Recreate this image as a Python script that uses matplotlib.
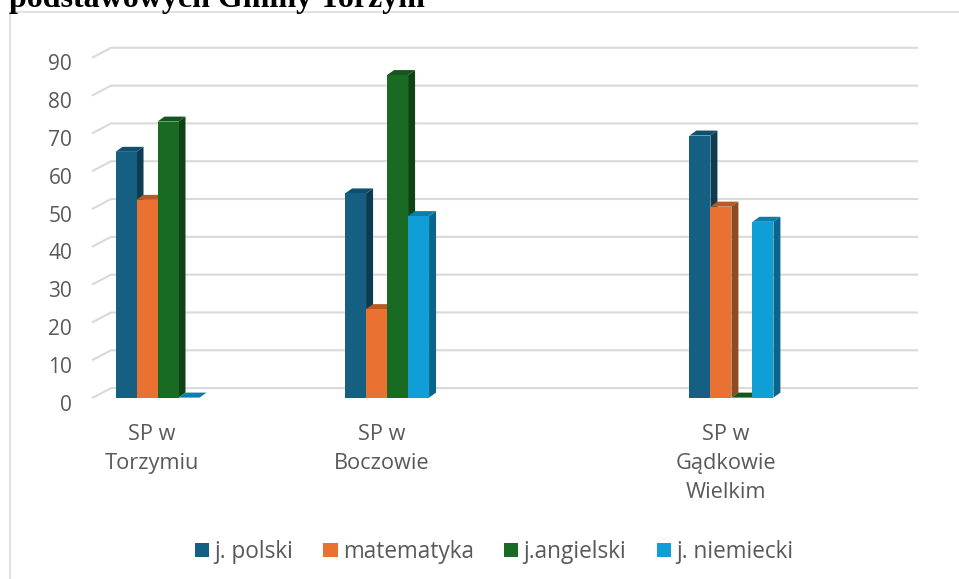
import numpy as np
import matplotlib.pyplot as plt
from matplotlib.patches import Polygon
from matplotlib.transforms import ScaledTranslation

plt.rcParams['font.family'] = ['Open Sans', 'DejaVu Sans']

# Data
schools = ['SP w\nTorzymiu', 'SP w\nBoczowie', 'SP w\nGądkowie\nWielkim']
school_pos = [0, 2, 5]
subjects = ['j. polski', 'matematyka', 'j.angielski', 'j. niemiecki']
polski = [65, 54, 69.3]
matematyka = [52.3, 23.4, 50.5]
angielski = [73, 85.3, 0]
niemiecki = [0, 48, 46.5]
series = [polski, matematyka, angielski, niemiecki]
y_ticks = [0, 10, 20, 30, 40, 50, 60, 70, 80, 90]

colors = ['#156082', '#E97132', '#196B24', '#0F9ED5']
sides = ['#0D3B50', '#8F4A20', '#0F4316', '#09658A']
tops = ['#11506D', '#B85A27', '#14561D', '#0B7FAC']
grid_color = '#D9D9D9'
text_color = '#595959'

W, H = 959, 579
fig = plt.figure(figsize=(W / 100, H / 100), dpi=100)
ax = fig.add_axes([93 / W, 1 - 397.6 / H, 806 / W, 340.3 / H])
ax.set_xlim(-0.562, 6.46)
ax.set_ylim(0, 90)
for s in ax.spines.values():
    s.set_visible(False)

# pixels to data units
px_x = 7.022 / 806
px_y = 90 / 340.3
bar_w = 21 * px_x
depth_x, depth_y = 7 * px_x, 5 * px_y
floor_x, floor_y = 18 * px_x, 9.5 * px_y

# back wall and side gridlines
x0, x1 = ax.get_xlim()
for v in y_ticks:
    ax.plot([x0, x0 + floor_x, x1 + floor_x], [v, v + floor_y, v + floor_y],
            color=grid_color, lw=1.5, clip_on=False, zorder=1)

# bars, left to right so each one covers the side of the previous one
for i, vals in enumerate(series):
    xs = np.array(school_pos) + (i - 1.5) * bar_w
    z = 3 + i
    ax.bar(xs, vals, bar_w, color=colors[i], label=subjects[i], zorder=z + 0.5)
    for x, v in zip(xs, vals):
        l, r = x - bar_w / 2, x + bar_w / 2
        top = [(l, v), (r, v), (r + depth_x, v + depth_y), (l + depth_x, v + depth_y)]
        ax.add_patch(Polygon(top, color=tops[i], lw=0, zorder=z))
        if v > 0:
            side = [(r, 0), (r + depth_x, depth_y), (r + depth_x, v + depth_y), (r, v)]
            ax.add_patch(Polygon(side, color=sides[i], lw=0, zorder=z))

# ticks
ax.set_xticks(school_pos)
ax.set_xticklabels(schools, linespacing=1.5)
ax.set_yticks(y_ticks)
ax.tick_params(length=0, labelcolor=text_color)
ax.tick_params(axis='y', pad=15, labelsize=15)
ax.tick_params(axis='x', pad=19, labelsize=15.7)
for lab in ax.get_xticklabels():
    lab.set_transform(lab.get_transform() + ScaledTranslation(-5.5 / 100, 0, fig.dpi_scale_trans))
for lab in ax.get_yticklabels():
    lab.set_transform(lab.get_transform() + ScaledTranslation(0, -5 / 100, fig.dpi_scale_trans))

# legend
fig.legend(*ax.get_legend_handles_labels(), loc='center', bbox_to_anchor=(494 / W, 1 - 552 / H),
           ncol=4, frameon=False, fontsize=16.3, labelcolor=text_color,
           handlelength=0.62, handleheight=0.62, handletextpad=0.23,
           columnspacing=1.35, borderpad=0)

# frame of the chart, cut by the page
fig.add_artist(plt.Line2D([9.5 / W, 9.5 / W, 1], [0, 1 - 12 / H, 1 - 12 / H],
                          color=grid_color, lw=1.1))

# heading cut by the top edge of the picture
fig.text(9 / W, 1 - 6.5 / H, 'podstawowych Gminy Torzym', family='Liberation Serif',
         fontsize=23, fontweight='bold', color='black', va='baseline')

fig.savefig('out.png', dpi=100)
